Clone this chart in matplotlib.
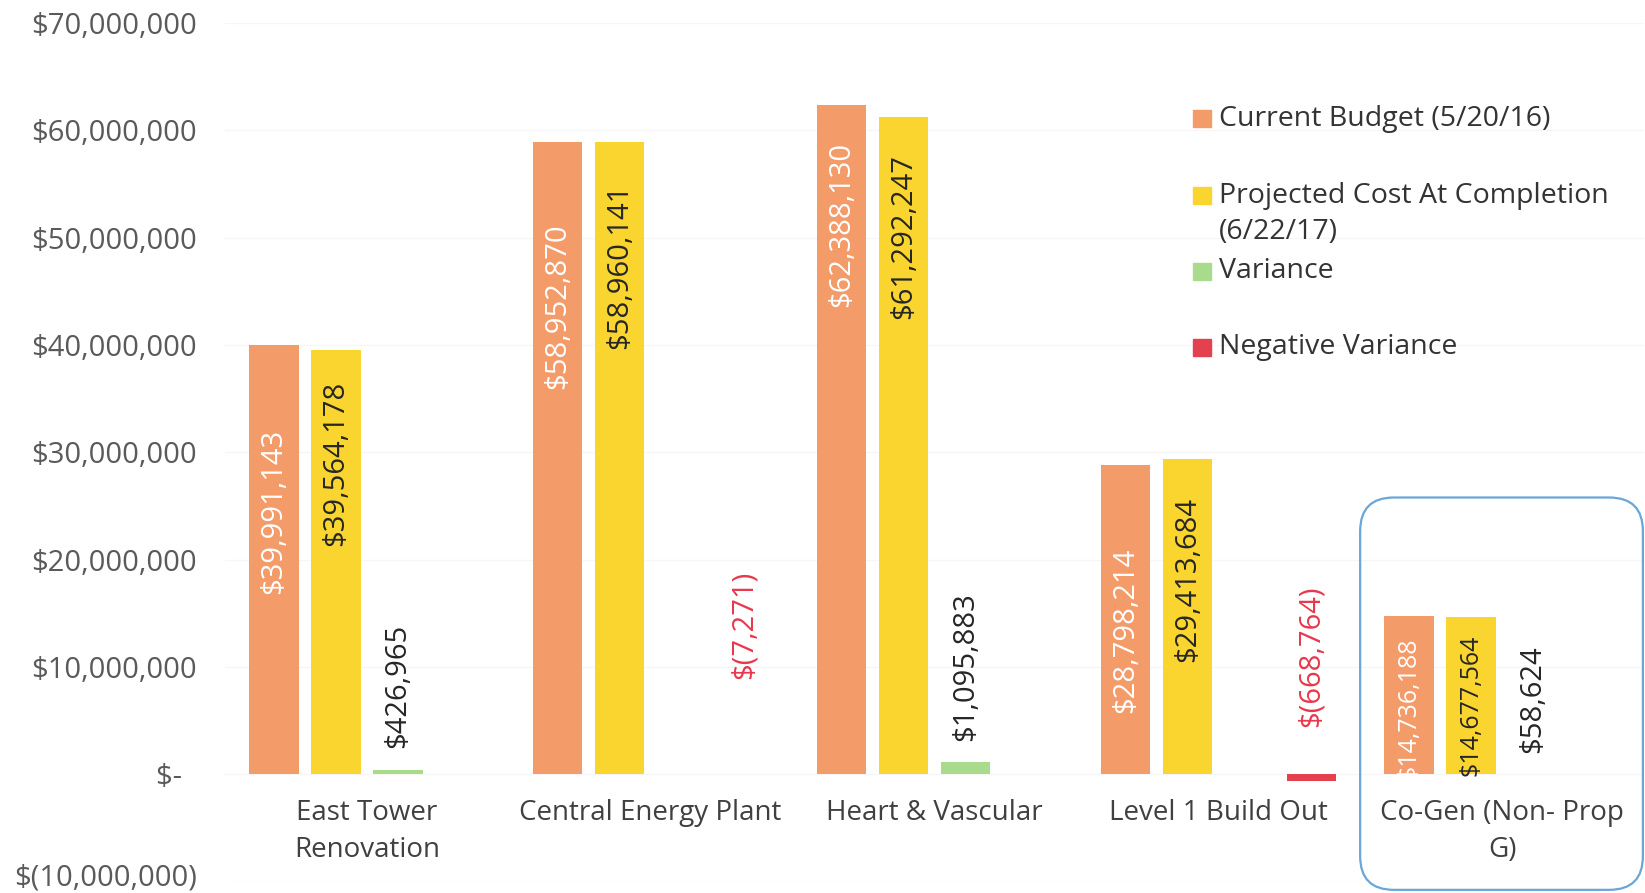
import matplotlib
matplotlib.use("Agg")
import matplotlib.pyplot as plt
import matplotlib.transforms as mtransforms
from matplotlib.patches import Rectangle, FancyBboxPatch
import numpy as np

# data
categories = ["East Tower\nRenovation", "Central Energy Plant", "Heart & Vascular",
              "Level 1 Build Out", "Co-Gen (Non- Prop\nG)"]
budget = [39991143, 58952870, 62388130, 28798214, 14736188]
projected = [39564178, 58960141, 61292247, 29413684, 14677564]
variance = [426965, 0, 1095883, 0, 58624]
neg_variance = [0, -7271, 0, -668764, 0]

series_names = ["Current Budget (5/20/16)", "Projected Cost At Completion\n(6/22/17)",
                "Variance", "Negative Variance"]
colors = ["#f49b6a", "#fad52f", "#a8dc8c", "#e3414f"]

yticks = [-10000000, 0, 10000000, 20000000, 30000000, 40000000, 50000000, 60000000, 70000000]

# label placement (layout only): y centre of each value label, in $M
lab_budget_y = [24.5, 43.6, 51.2, 13.4, 6.1]
lab_proj_y = [29.0, 47.3, 50.1, 18.1, 6.4]
lab_var_y = [8.2, 13.9, 10.0, 11.0, 7.0]

plt.rcParams["font.family"] = ["Open Sans", "DejaVu Sans"]

# layout measured on a 1565 x 849 grid
W, H = 1565.0, 849.0

fig = plt.figure(figsize=(16.45, 8.93), dpi=100)
ax = fig.add_axes([214 / W, 1 - 838 / H, 1350 / W, 816 / H])

x = np.arange(len(categories))
step = 0.2185
width = 0.174
all_series = [budget, projected, variance, neg_variance]
for i, (vals, c) in enumerate(zip(all_series, colors)):
    ax.bar(x + (i - 1.5) * step, vals, width=width, color=c, zorder=2)

ax.set_xlim(-0.5, 4.5)
ax.set_ylim(-10000000, 70000000)


def money(v):
    if v == 0:
        return "$-  "
    if v < 0:
        return "$({:,})".format(int(-v))
    return "${:,}".format(int(v))


ax.set_yticks(yticks)
ax.set_yticklabels([money(v) for v in yticks])
ax.tick_params(axis="y", length=0, pad=20, labelsize=21, labelcolor="#5a5a5a")
ax.set_xticks([])
ax.grid(axis="y", color="#f6f6f6", linewidth=1, zorder=0)
for s in ax.spines.values():
    s.set_visible(False)

# lift the bottom tick label a little so it is not clipped by the figure edge
bottom_lab = ax.get_yticklabels()[0]
bottom_lab.set_transform(bottom_lab.get_transform() +
                         mtransforms.ScaledTranslation(0, 5 / 72, fig.dpi_scale_trans))

# value labels
for k in range(len(categories)):
    fs = 18 if k == 4 else 21
    ax.text(x[k] - 1.5 * step, lab_budget_y[k] * 1e6, money(budget[k]), rotation=90,
            ha="center", va="center", color="white", fontsize=fs, zorder=3)
    ax.text(x[k] - 0.5 * step, lab_proj_y[k] * 1e6, money(projected[k]), rotation=90,
            ha="center", va="center", color="#262626", fontsize=fs, zorder=3)
    if neg_variance[k] < 0:
        ax.text(x[k] + 1.5 * step, lab_var_y[k] * 1e6, money(neg_variance[k]), rotation=90,
                ha="center", va="center", color="#e8374c", fontsize=21, zorder=3)
    else:
        ax.text(x[k] + 0.5 * step, lab_var_y[k] * 1e6, money(variance[k]), rotation=90,
                ha="center", va="center", color="#262626", fontsize=21, zorder=3)

# category labels sit above the bottom of the axis
for k, name in enumerate(categories):
    ax.text(x[k], -2.3e6, name, ha="center", va="top", fontsize=20,
            color="#404040", linespacing=1.45)

# legend drawn by hand so the marker sits on the first line
leg_y = [113, 186, 258, 330]
for name, c, yy in zip(series_names, colors, leg_y):
    fy = 1 - yy / H
    fig.patches.append(Rectangle((1135 / W, fy - 8 / H), 17 / W, 16 / H,
                                 transform=fig.transFigure, color=c))
    first, *rest = name.split("\n")
    fig.text(1160 / W, fy, first, ha="left", va="center", fontsize=20.5, color="#333333")
    for j, line in enumerate(rest):
        fig.text(1160 / W, fy - 35 * (j + 1) / H, line, ha="left", va="center",
                 fontsize=20.5, color="#333333")

# rounded box around Co-Gen
fig.patches.append(FancyBboxPatch((1294 / W, 1 - 846 / H), 269 / W, 373 / H,
                                  boxstyle="round,pad=0,rounding_size=%f" % (32 / W),
                                  mutation_aspect=W / H,
                                  transform=fig.transFigure, fill=False,
                                  edgecolor="#6aa6d8", linewidth=1.6))

fig.savefig("out.png", dpi=100)
